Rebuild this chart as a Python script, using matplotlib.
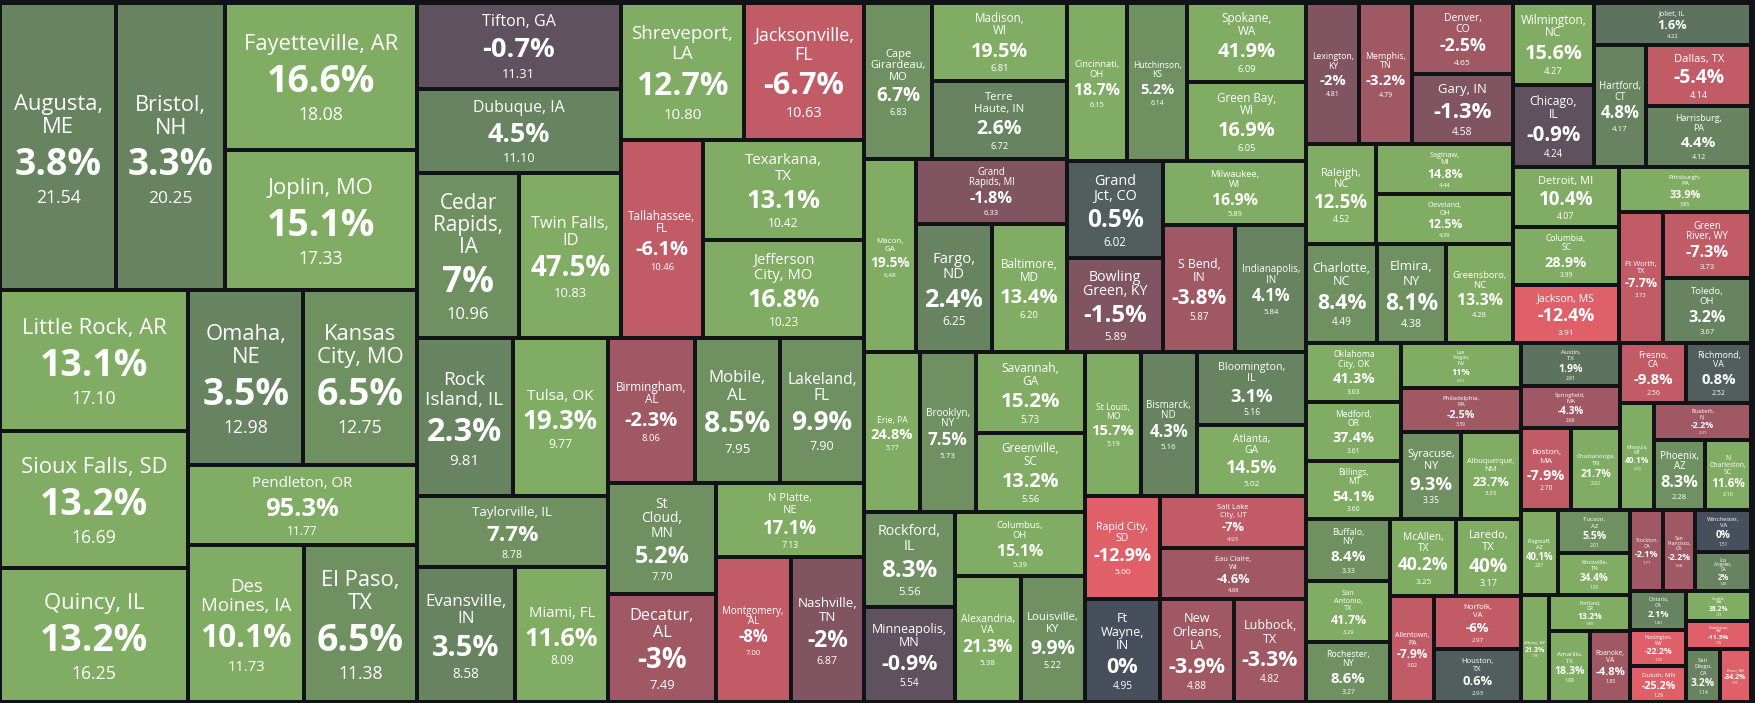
import matplotlib
matplotlib.use('Agg')
import matplotlib.pyplot as plt
from matplotlib.patches import Rectangle
from matplotlib.font_manager import FontProperties, findfont

# ---- data: city label (as broken in the tiles), percent change, value (tile size) ----
labels = ['Augusta,\nME', 'Bristol,\nNH', 'Fayetteville, AR', 'Joplin, MO', 'Little Rock, AR',
          'Sioux Falls, SD', 'Quincy, IL', 'Omaha,\nNE', 'Kansas\nCity, MO', 'Pendleton, OR',
          'Des\nMoines, IA', 'El Paso,\nTX', 'Tifton, GA', 'Dubuque, IA', 'Cedar\nRapids,\nIA',
          'Twin Falls,\nID', 'Shreveport,\nLA', 'Jacksonville,\nFL', 'Tallahassee,\nFL', 'Texarkana,\nTX',
          'Jefferson\nCity, MO', 'Rock\nIsland, IL', 'Tulsa, OK', 'Taylorville, IL', 'Evansville,\nIN',
          'Miami, FL', 'Birmingham,\nAL', 'Mobile,\nAL', 'Lakeland,\nFL', 'St\nCloud,\nMN',
          'Decatur,\nAL', 'N Platte,\nNE', 'Montgomery,\nAL', 'Nashville,\nTN',
          'Cape\nGirardeau,\nMO', 'Madison,\nWI', 'Terre\nHaute, IN', 'Macon,\nGA', 'Grand\nRapids, MI',
          'Fargo,\nND', 'Baltimore,\nMD', 'Cincinnati,\nOH', 'Hutchinson,\nKS', 'Spokane,\nWA',
          'Green Bay,\nWI', 'Grand\nJct, CO', 'Bowling\nGreen, KY', 'Milwaukee,\nWI', 'S Bend,\nIN',
          'Indianapolis,\nIN', 'Erie, PA', 'Brooklyn,\nNY', 'Savannah,\nGA', 'Greenville,\nSC',
          'Rockford,\nIL', 'Minneapolis,\nMN', 'Columbus,\nOH', 'Alexandria,\nVA', 'Louisville,\nKY',
          'St Louis,\nMO', 'Bismarck,\nND', 'Bloomington,\nIL', 'Atlanta,\nGA', 'Rapid City,\nSD',
          'Ft\nWayne,\nIN', 'Salt Lake\nCity, UT', 'Eau Claire,\nWI', 'New\nOrleans,\nLA', 'Lubbock,\nTX',
          'Lexington,\nKY', 'Memphis,\nTN', 'Denver,\nCO', 'Gary, IN', 'Raleigh,\nNC',
          'Saginaw,\nMI', 'Cleveland,\nOH', 'Charlotte,\nNC', 'Elmira,\nNY', 'Greensboro,\nNC',
          'Wilmington,\nNC', 'Chicago,\nIL', 'Joliet, IL', 'Hartford,\nCT', 'Dallas, TX',
          'Harrisburg,\nPA', 'Detroit, MI', 'Columbia,\nSC', 'Jackson, MS', 'Pittsburgh,\nPA',
          'Ft Worth,\nTX', 'Green\nRiver, WY', 'Toledo,\nOH', 'Oklahoma\nCity, OK', 'Medford,\nOR',
          'Billings,\nMT', 'Las\nVegas,\nNV', 'Philadelphia,\nPA', 'Syracuse,\nNY', 'Albuquerque,\nNM',
          'Buffalo,\nNY', 'San\nAntonio,\nTX', 'Rochester,\nNY', 'McAllen,\nTX', 'Laredo,\nTX',
          'Allentown,\nPA', 'Norfolk,\nVA', 'Houston,\nTX', 'Austin,\nTX', 'Springfield,\nMA',
          'Boston,\nMA', 'Chattanooga,\nTN', 'Fresno,\nCA', 'Richmond,\nVA', 'Missoula,\nMT',
          'Elizabeth,\nNJ', 'Phoenix,\nAZ', 'N\nCharleston,\nSC', 'Flagstaff,\nAZ', 'Tucson,\nAZ',
          'Knoxville,\nTN', 'Albany, NY', 'Portland,\nOR', 'Amarillo,\nTX', 'Roanoke,\nVA',
          'Stockton,\nCA', 'San\nFrancisco,\nCA', 'Winchester,\nVA', 'Los\nAngeles,\nCA', 'Ontario,\nCA',
          'Huntington,\nWV', 'Duluth, MN', 'Seattle,\nWA', 'Charleston,\nWV', 'San\nDiego,\nCA',
          'Reno, NV']

changes = [3.8, 3.3, 16.6, 15.1, 13.1,
           13.2, 13.2, 3.5, 6.5, 95.3,
           10.1, 6.5, -0.7, 4.5, 7,
           47.5, 12.7, -6.7, -6.1, 13.1,
           16.8, 2.3, 19.3, 7.7, 3.5,
           11.6, -2.3, 8.5, 9.9, 5.2,
           -3, 17.1, -8, -2,
           6.7, 19.5, 2.6, 19.5, -1.8,
           2.4, 13.4, 18.7, 5.2, 41.9,
           16.9, 0.5, -1.5, 16.9, -3.8,
           4.1, 24.8, 7.5, 15.2, 13.2,
           8.3, -0.9, 15.1, 21.3, 9.9,
           15.7, 4.3, 3.1, 14.5, -12.9,
           0, -7, -4.6, -3.9, -3.3,
           -2, -3.2, -2.5, -1.3, 12.5,
           14.8, 12.5, 8.4, 8.1, 13.3,
           15.6, -0.9, 1.6, 4.8, -5.4,
           4.4, 10.4, 28.9, -12.4, 33.9,
           -7.7, -7.3, 3.2, 41.3, 37.4,
           54.1, 11, -2.5, 9.3, 23.7,
           8.4, 41.7, 8.6, 40.2, 40,
           -7.9, -6, 0.6, 1.9, -4.3,
           -7.9, 21.7, -9.8, 0.8, 40.1,
           -2.2, 8.3, 11.6, 40.1, 5.5,
           34.4, 21.3, 13.2, 18.3, -4.8,
           -2.1, -2.2, 0, 2, 2.1,
           -22.2, -25.2, 38.2, -11.3, 3.2,
           -34.2]

values = [21.54, 20.25, 18.08, 17.33, 17.10,
          16.69, 16.25, 12.98, 12.75, 11.77,
          11.73, 11.38, 11.31, 11.10, 10.96,
          10.83, 10.80, 10.63, 10.46, 10.42,
          10.23, 9.81, 9.77, 8.78, 8.58,
          8.09, 8.06, 7.95, 7.90, 7.70,
          7.49, 7.13, 7.00, 6.87,
          6.83, 6.81, 6.72, 6.48, 6.33,
          6.25, 6.20, 6.15, 6.14, 6.09,
          6.05, 6.02, 5.89, 5.89, 5.87,
          5.84, 5.77, 5.73, 5.73, 5.56,
          5.56, 5.54, 5.39, 5.38, 5.22,
          5.19, 5.16, 5.16, 5.02, 5.00,
          4.95, 4.93, 4.88, 4.88, 4.82,
          4.81, 4.79, 4.65, 4.58, 4.52,
          4.44, 4.39, 4.49, 4.38, 4.28,
          4.27, 4.24, 4.22, 4.17, 4.14,
          4.12, 4.07, 3.99, 3.91, 3.85,
          3.73, 3.73, 3.67, 3.63, 3.61,
          3.60, 3.51, 3.39, 3.35, 3.33,
          3.33, 3.29, 3.27, 3.25, 3.17,
          3.02, 2.97, 2.93, 2.81, 2.66,
          2.70, 2.62, 2.56, 2.52, 2.33,
          2.31, 2.28, 2.10, 2.07, 2.01,
          1.93, 1.98, 1.89, 1.88, 1.85,
          1.71, 1.68, 1.51, 1.40, 1.40,
          1.32, 1.29, 1.23, 1.18, 1.14,
          1.07]

# nesting of the tiles ('h' = side by side, 'v' = stacked)
tree = ('h', [
    ('h', [
        ('v', [
            ('h', ['Augusta, ME', 'Bristol, NH', ('v', ['Fayetteville, AR', 'Joplin, MO'])]),
            ('h', [('v', ['Little Rock, AR', 'Sioux Falls, SD', 'Quincy, IL']),
                   ('v', [('h', ['Omaha, NE', 'Kansas City, MO']), 'Pendleton, OR',
                          ('h', ['Des Moines, IA', 'El Paso, TX'])])])]),
        ('v', [
            ('h', [('v', ['Tifton, GA', 'Dubuque, IA', ('h', ['Cedar Rapids, IA', 'Twin Falls, ID'])]),
                   ('v', [('h', ['Shreveport, LA', 'Jacksonville, FL']),
                          ('h', ['Tallahassee, FL', ('v', ['Texarkana, TX', 'Jefferson City, MO'])])])]),
            ('h', [('v', [('h', ['Rock Island, IL', 'Tulsa, OK']), 'Taylorville, IL',
                          ('h', ['Evansville, IN', 'Miami, FL'])]),
                   ('v', [('h', ['Birmingham, AL', 'Mobile, AL', 'Lakeland, FL']),
                          ('h', [('v', ['St Cloud, MN', 'Decatur, AL']),
                                 ('v', ['N Platte, NE', ('h', ['Montgomery, AL', 'Nashville, TN'])])])])])])]),
    ('h', [
        ('v', [
            ('h', [('v', [('h', ['Cape Girardeau, MO', ('v', ['Madison, WI', 'Terre Haute, IN'])]),
                          ('h', ['Macon, GA', ('v', ['Grand Rapids, MI', ('h', ['Fargo, ND', 'Baltimore, MD'])])])]),
                   ('v', [('h', ['Cincinnati, OH', 'Hutchinson, KS', ('v', ['Spokane, WA', 'Green Bay, WI'])]),
                          ('h', [('v', ['Grand Jct, CO', 'Bowling Green, KY']),
                                 ('v', ['Milwaukee, WI', ('h', ['S Bend, IN', 'Indianapolis, IN'])])])])]),
            ('h', [('v', [('h', ['Erie, PA', 'Brooklyn, NY', ('v', ['Savannah, GA', 'Greenville, SC'])]),
                          ('h', [('v', ['Rockford, IL', 'Minneapolis, MN']),
                                 ('v', ['Columbus, OH', ('h', ['Alexandria, VA', 'Louisville, KY'])])])]),
                   ('v', [('h', ['St Louis, MO', 'Bismarck, ND', ('v', ['Bloomington, IL', 'Atlanta, GA'])]),
                          ('h', [('v', ['Rapid City, SD', 'Ft Wayne, IN']),
                                 ('v', ['Salt Lake City, UT', 'Eau Claire, WI',
                                        ('h', ['New Orleans, LA', 'Lubbock, TX'])])])])])]),
        ('v', [
            ('h', [('v', [('h', ['Lexington, KY', 'Memphis, TN', ('v', ['Denver, CO', 'Gary, IN'])]),
                          ('v', [('h', ['Raleigh, NC', ('v', ['Saginaw, MI', 'Cleveland, OH'])]),
                                 ('h', ['Charlotte, NC', 'Elmira, NY', 'Greensboro, NC'])])]),
                   ('v', [('h', [('v', ['Wilmington, NC', 'Chicago, IL']),
                                 ('v', ['Joliet, IL', ('h', ['Hartford, CT', ('v', ['Dallas, TX', 'Harrisburg, PA'])])])]),
                          ('h', [('v', ['Detroit, MI', 'Columbia, SC', 'Jackson, MS']),
                                 ('v', ['Pittsburgh, PA', ('h', ['Ft Worth, TX', ('v', ['Green River, WY', 'Toledo, OH'])])])])])]),
            ('h', [('v', [('h', [('v', ['Oklahoma City, OK', 'Medford, OR', 'Billings, MT']),
                                 ('v', ['Las Vegas, NV', 'Philadelphia, PA', ('h', ['Syracuse, NY', 'Albuquerque, NM'])])]),
                          ('h', [('v', ['Buffalo, NY', 'San Antonio, TX', 'Rochester, NY']),
                                 ('v', [('h', ['McAllen, TX', 'Laredo, TX']),
                                        ('h', ['Allentown, PA', ('v', ['Norfolk, VA', 'Houston, TX'])])])])]),
                   ('v', [('h', [('v', ['Austin, TX', 'Springfield, MA', ('h', ['Boston, MA', 'Chattanooga, TN'])]),
                                 ('v', [('h', ['Fresno, CA', 'Richmond, VA']),
                                        ('h', ['Missoula, MT', ('v', ['Elizabeth, NJ', ('h', ['Phoenix, AZ', 'N Charleston, SC'])])])])]),
                          ('h', [('v', [('h', ['Flagstaff, AZ', ('v', ['Tucson, AZ', 'Knoxville, TN'])]),
                                        ('h', ['Albany, NY', ('v', ['Portland, OR', ('h', ['Amarillo, TX', 'Roanoke, VA'])])])]),
                                 ('v', [('h', ['Stockton, CA', 'San Francisco, CA', ('v', ['Winchester, VA', 'Los Angeles, CA'])]),
                                        ('h', [('v', ['Ontario, CA', 'Huntington, WV', 'Duluth, MN']),
                                               ('v', ['Seattle, WA', 'Charleston, WV', ('h', ['San Diego, CA', 'Reno, NV'])])])])])])])])])
])

#------setup------
W, H, DPI = 1755, 703, 100
BG = '#111316'
GAP = 2.0


def pick_font():
    #first family that really has a bold face installed
    for fam in ['Open Sans', 'Roboto', 'Noto Sans', 'Lato']:
        try:
            f = findfont(FontProperties(family=fam, weight='bold'), fallback_to_default=False)
        except Exception:
            continue
        if 'bold' in f.lower():
            return fam
    return 'DejaVu Sans'


FONT = [pick_font(), 'DejaVu Sans']

cities = [l.replace('\n', ' ') for l in labels]
val = dict(zip(cities, values))
chg = dict(zip(cities, changes))
lab = dict(zip(cities, labels))


def total(node):
    if isinstance(node, str):
        return val[node]
    return sum(total(c) for c in node[1])


def layout(node, x0, y0, x1, y1, out):
    #leaf -> store its box
    if isinstance(node, str):
        out[node] = (x0, y0, x1, y1)
        return
    orient, kids = node
    sums = [total(k) for k in kids]
    tot = sum(sums)
    pos = x0 if orient == 'h' else y0
    span = (x1 - x0) if orient == 'h' else (y1 - y0)
    for k, s in zip(kids, sums):
        step = span * s / tot
        if orient == 'h':
            layout(k, pos, y0, pos + step, y1, out)
        else:
            layout(k, x0, pos, x1, pos + step, out)
        pos += step


#stepped diverging colour: red <- dark slate -> green
NEUTRAL = (71, 78, 92)
GREEN = (128, 173, 99)
RED = (224, 96, 106)


def tile_color(p):
    a = abs(p)
    if p > 0:
        t = 1.0 if a >= 10 else 0.7 if a >= 5 else 0.56 if a >= 2 else 0.38 if a >= 1 else 0.17
        end = GREEN
    elif p < 0:
        t = 1.0 if a >= 10 else 0.8 if a >= 5 else 0.58 if a > 2 else 0.37 if a >= 1 else 0.16
        end = RED
    else:
        t, end = 0.0, GREEN
    return tuple((NEUTRAL[i] + (end[i] - NEUTRAL[i]) * t) / 255 for i in range(3))


fig = plt.figure(figsize=(W / DPI, H / DPI), dpi=DPI)
fig.patch.set_facecolor(BG)
ax = fig.add_axes([0, 0, 1, 1])
ax.set_xlim(0, W)
ax.set_ylim(H, 0)
ax.axis('off')
renderer = fig.canvas.get_renderer()

_cache = {}


def em_width(s, weight):
    #width of text per pixel of font size
    key = (s, weight)
    if key not in _cache:
        prop = FontProperties(family=FONT, weight=weight, size=100 * 72 / DPI)
        w, h, d = renderer.get_text_width_height_descent(s, prop, ismath=False)
        _cache[key] = w / 100.0
    return _cache[key]


boxes = {}
layout(tree, 0, 3, 1751, 702, boxes)

MAXS = 22.0
PK, VK = 1.7, 0.8
WF, WFN, HF = 0.82, 0.86, 0.78

for name in cities:
    x0, y0, x1, y1 = boxes[name]
    x0 += GAP; y0 += GAP; x1 -= GAP; y1 -= GAP
    w, h = x1 - x0, y1 - y0
    ax.add_patch(Rectangle((x0, y0), w, h, facecolor=tile_color(chg[name]), edgecolor='none'))

    ptxt = '{:g}%'.format(chg[name])
    vtxt = '{:.2f}'.format(val[name])
    lines = lab[name].split('\n')
    n = len(lines)
    widest = max(em_width(l, 'normal') for l in lines)

    #font size: largest that fits the tile
    s = min(MAXS,
            WF * w / (PK * em_width(ptxt, 'bold')),
            WF * w / (VK * em_width(vtxt, 'normal')),
            WFN * w / widest,
            HF * h / (3.95 + 1.05 * (n - 1)))

    p, v = PK * s, VK * s
    block = s * (3.95 + 1.05 * (n - 1))
    top = y0 + (h - block) / 2 + 0.01 * h
    cx = (x0 + x1) / 2
    base = top + 0.72 * s
    for i, l in enumerate(lines):
        ax.text(cx, base + i * 1.05 * s, l, ha='center', va='baseline', color='white',
                fontsize=s * 72 / DPI, family=FONT)
    pb = base + (n - 1) * 1.05 * s + 1.12 * p
    ax.text(cx, pb, ptxt, ha='center', va='baseline', color='white',
            fontsize=p * 72 / DPI, family=FONT, fontweight='bold')
    ax.text(cx, pb + 0.75 * p, vtxt, ha='center', va='baseline', color='white',
            fontsize=v * 72 / DPI, family=FONT)

fig.savefig('out.png', dpi=DPI, facecolor=BG)
